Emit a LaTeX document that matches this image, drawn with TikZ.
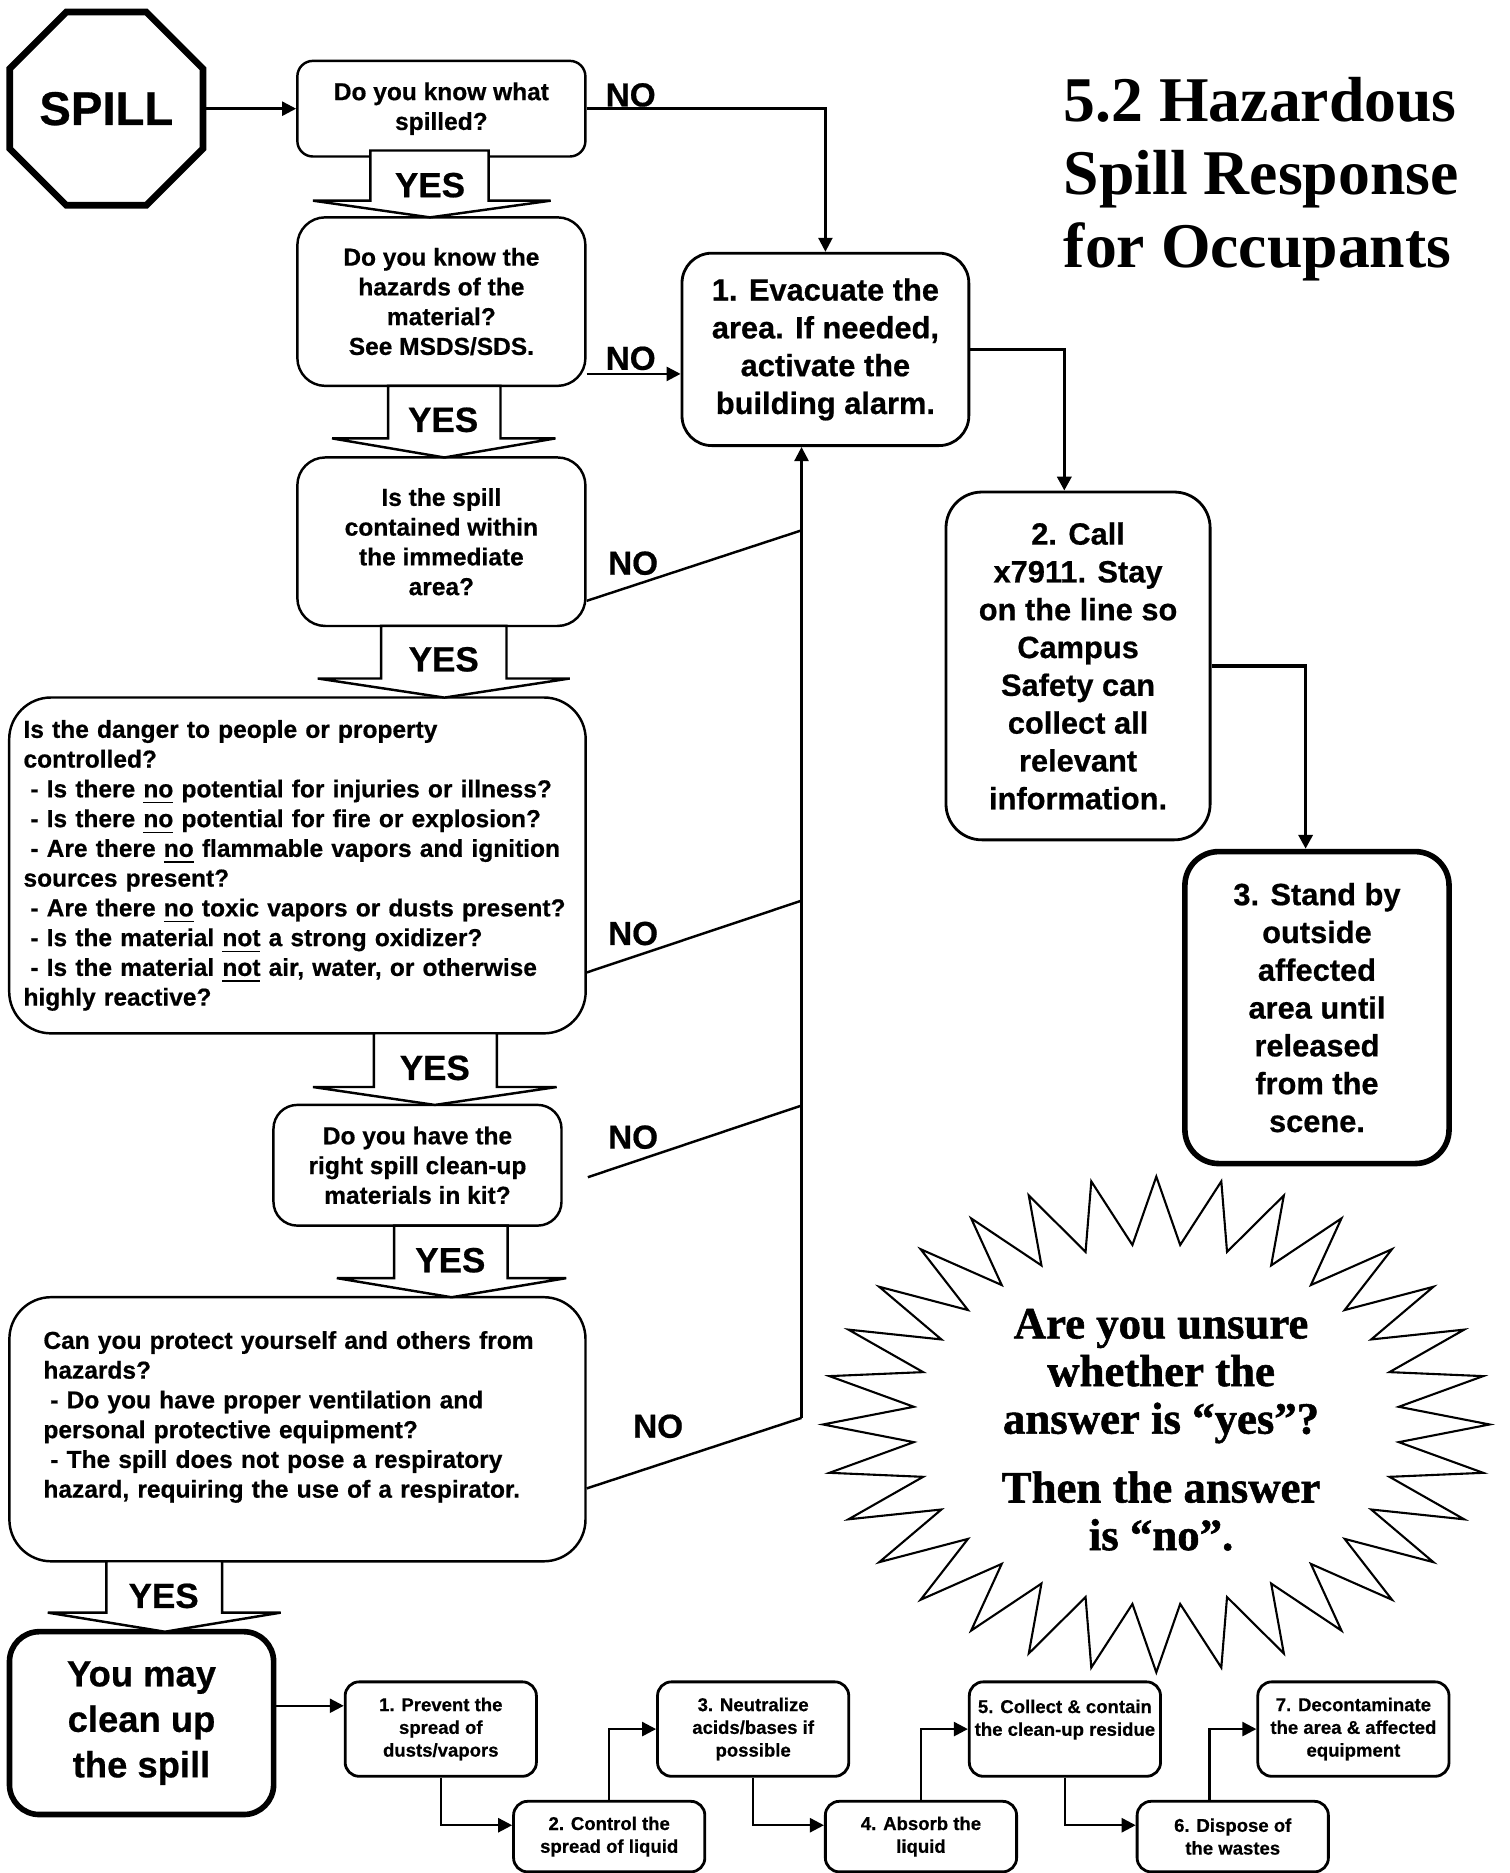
\documentclass[tikz,border=0pt]{standalone}
\usepackage{fontspec}
\setmainfont{Liberation Sans}[BoldFeatures={FakeBold=0.6}]
\newfontfamily\titlefont{Liberation Serif}
\newfontfamily\burstfont{Liberation Serif}[BoldFeatures={FakeBold=1.2}]
\usetikzlibrary{arrows.meta,shapes.geometric,calc}

\begin{document}
\begin{tikzpicture}[x=0.012cm, y=-0.012cm,
  qbox/.style={rectangle, draw, line width=0.7pt, align=center, inner sep=2pt,
               font=\fontsize{7pt}{8.5pt}\selectfont\bfseries},
  abox/.style={rectangle, draw, line width=0.8pt, align=center, inner sep=2pt,
               minimum width=2.652cm, font=\fontsize{8.8pt}{10.8pt}\selectfont\bfseries},
  sbox/.style={rectangle, draw, line width=0.8pt, rounded corners=0.14cm,
               minimum width=1.92cm, align=center, inner sep=1pt,
               font=\fontsize{5.3pt}{6.5pt}\selectfont\bfseries},
  yesbox/.style={draw, fill=white, line width=0.7pt},
  yeslbl/.style={font=\fontsize{10pt}{12pt}\selectfont\bfseries},
  nolbl/.style={font=\fontsize{9.5pt}{11pt}\selectfont\bfseries},
  arr/.style={-{Triangle[length=4pt,width=4pt]}, line width=0.7pt},
  noline/.style={line width=0.7pt},
  burst/.style={draw, line width=0.6pt, line join=miter}
]
\useasboundingbox (0,0) rectangle (1264,1568);

% Start
\node[draw, regular polygon, regular polygon sides=8, minimum size=2.1cm,
      line width=1.9pt, inner sep=0pt,
      font=\fontsize{13.5pt}{16pt}\selectfont\bfseries] (spill) at (89,91) {SPILL};

% Questions
\node[qbox, minimum width=2.892cm, minimum height=0.96cm, rounded corners=0.156cm] (q1) at (369.5,91) {Do you know what\\spilled?};
\node[qbox, minimum width=2.892cm, minimum height=1.692cm, rounded corners=0.28cm] (q2) at (369.5,252.5) {Do you know the\\hazards of the\\material?\\See MSDS/SDS.};
\node[qbox, minimum width=2.892cm, minimum height=1.692cm, rounded corners=0.28cm] (q3) at (369.5,453.5) {Is the spill\\contained within\\the immediate\\area?};
\node[qbox, minimum width=5.784cm, minimum height=3.372cm, rounded corners=0.42cm,
      align=left, text width=5.5cm, inner xsep=0.144cm] (q4) at (249,724.5) {Is the danger to people or property\\
controlled?\\
\hspace*{0.28em}- Is there \underline{no} potential for injuries or illness?\\
\hspace*{0.28em}- Is there \underline{no} potential for fire or explosion?\\
\hspace*{0.28em}- Are there \underline{no} flammable vapors and ignition\\
sources present?\\
\hspace*{0.28em}- Are there \underline{no} toxic vapors or dusts present?\\
\hspace*{0.28em}- Is the material \underline{not} a strong oxidizer?\\
\hspace*{0.28em}- Is the material \underline{not} air, water, or otherwise\\
highly reactive?};
\node[qbox, minimum width=2.892cm, minimum height=1.212cm, rounded corners=0.24cm] (q5) at (349.5,975.5) {Do you have the\\right spill clean-up\\materials in kit?};
\node[qbox, minimum width=5.784cm, minimum height=2.652cm, rounded corners=0.42cm,
      align=left, text width=5.1cm, inner xsep=0.342cm] (q6) at (249,1196.5) {Can you protect yourself and others from\\
hazards?\\
\hspace*{0.28em}- Do you have proper ventilation and\\
personal protective equipment?\\
\hspace*{0.28em}- The spill does not pose a respiratory\\
hazard, requiring the use of a respirator.\\
\mbox{}};

% Actions
\node[abox, minimum width=2.88cm, minimum height=1.932cm, rounded corners=0.3cm] (evac) at (691,292.5) {1. Evacuate the\\area. If needed,\\activate the\\building alarm.};
\node[abox, minimum height=3.492cm, rounded corners=0.36cm] (call) at (902.5,557.5) {2. Call\\x7911. Stay\\on the line so\\Campus\\Safety can\\collect all\\relevant\\information.};
\node[abox, minimum height=3.132cm, rounded corners=0.34cm, line width=1.6pt] (stand) at (1102.5,843.5) {3. Stand by\\outside\\affected\\area until\\released\\from the\\scene.};

% Clean-up
\node[rectangle, draw, line width=1.6pt, rounded corners=0.3cm, minimum width=2.652cm,
      minimum height=1.836cm, align=center,
      font=\fontsize{10.4pt}{13pt}\selectfont\bfseries] (clean) at (118.5,1442.5) {You may\\clean up\\the spill};
\node[sbox, minimum height=0.948cm] (s1) at (369,1447.5) {1. Prevent the\\spread of\\dusts/vapors};
\node[sbox, minimum height=0.708cm] (s2) at (510,1537.5) {2. Control the\\spread of liquid};
\node[sbox, minimum height=0.948cm] (s3) at (630.5,1447.5) {3. Neutralize\\acids/bases if\\possible};
\node[sbox, minimum height=0.708cm] (s4) at (771,1537.5) {4. Absorb the\\liquid};
\node[sbox, minimum height=0.948cm] (s5) at (891.5,1447.5) {5. Collect \& contain\\the clean-up residue\\\mbox{}};
\node[sbox, minimum height=0.708cm] (s6) at (1032,1537.5) {6. Dispose of\\the wastes};
\node[sbox, minimum height=0.948cm] (s7) at (1133,1447.5) {7. Decontaminate\\the area \& affected\\equipment};

% YES arrows
\draw[yesbox] (310,126) -- (310,168) -- (262,168) -- (360,182) -- (461,168) -- (409,168) -- (409,126) -- cycle;
\draw[yesbox] (325,323) -- (325,367) -- (278,367) -- (372,383) -- (465,367) -- (419,367) -- (419,323) -- cycle;
\draw[yesbox] (319,524) -- (319,568) -- (266,568) -- (372,584) -- (477,568) -- (424,568) -- (424,524) -- cycle;
\draw[yesbox] (313,865) -- (313,910) -- (262,910) -- (364,925) -- (466,910) -- (416,910) -- (416,865) -- cycle;
\draw[yesbox] (330,1026) -- (330,1070) -- (282,1070) -- (378,1086) -- (474,1070) -- (425,1070) -- (425,1026) -- cycle;
\draw[yesbox] (89,1307) -- (89,1350) -- (40,1350) -- (138,1366) -- (235,1350) -- (186,1350) -- (186,1307) -- cycle;
\node[yeslbl] (yes1) at (360,155) {YES};
\node[yeslbl] (yes2) at (371,351.5) {YES};
\node[yeslbl] (yes3) at (371.5,552) {YES};
\node[yeslbl] (yes4) at (364,894) {YES};
\node[yeslbl] (yes5) at (377,1055) {YES};
\node[yeslbl] (yes6) at (137,1336) {YES};

% NO branches
\coordinate (j3) at (671,444);
\coordinate (j4) at (671,754);
\coordinate (j5) at (671,925.5);
\coordinate (j6) at (671,1187);
\draw[arr] (spill.east) -- (spill.east -| q1.west);
\draw[arr] (q1.east) -| (evac.north);
\draw[arr] ([yshift=-0.726cm]q2.east) -- ([yshift=-0.726cm]q2.east -| evac.west);
\draw[noline] ([yshift=-0.594cm]q3.east) -- (j3);
\draw[noline] ([yshift=-1.074cm]q4.east) -- (j4);
\draw[noline] ([xshift=0.252cm,yshift=-0.12cm]q5.east) -- (j5);
\draw[noline] ([yshift=-0.594cm]q6.east) -- (j6);
\draw[arr] (j6) -- (j6 |- evac.south);
\node[nolbl] (no1) at (528,79.5) {NO};
\node[nolbl] (no2) at (528,300) {NO};
\node[nolbl] (no3) at (530,471.5) {NO};
\node[nolbl] (no4) at (530,781.5) {NO};
\node[nolbl] (no5) at (530,952) {NO};
\node[nolbl] (no6) at (551,1194) {NO};

% Emergency steps
\draw[arr, line width=1pt] (evac.east) -| ([xshift=-0.138cm]call.north);
\draw[arr, line width=1pt] (call.east) -| ([xshift=-0.114cm]stand.north);

% Clean-up steps
\draw[arr] ([yshift=0.174cm]clean.east) -- ([yshift=0.174cm]clean.east -| s1.west);
\draw[arr] (s1.south) |- ([yshift=0.114cm]s2.west);
\draw[arr] (s2.north) |- (s3.west);
\draw[arr] (s3.south) |- ([yshift=0.114cm]s4.west);
\draw[arr] (s4.north) |- (s5.west);
\draw[arr] (s5.south) |- ([yshift=0.114cm]s6.west);
\draw[arr] ([xshift=-0.235cm]s6.north) |- (s7.west);

% Title
\node[anchor=west, align=left, inner sep=0pt,
      font=\titlefont\bfseries\fontsize{18.2pt}{20.8pt}\selectfont] (title) at (890,150) {5.2 Hazardous\\Spill Response\\for Occupants};

% Starburst
\draw[burst] (968,985) \foreach \k in {0,...,31} {
  -- ({968+204*cos(95.625+11.25*\k)},{1192.5-151*sin(95.625+11.25*\k)})
  -- ({968+279*cos(101.25+11.25*\k)},{1192.5-207.5*sin(101.25+11.25*\k)})
} -- cycle;
\node[align=center, font=\burstfont\bfseries\fontsize{12.8pt}{13.6pt}\selectfont] (unsure) at (972,1152) {Are you unsure\\whether the\\answer is “yes”?};
\node[align=center, font=\burstfont\bfseries\fontsize{12.8pt}{13.6pt}\selectfont] (answer) at (972,1265) {Then the answer\\is “no”.};
\end{tikzpicture}
\end{document}
